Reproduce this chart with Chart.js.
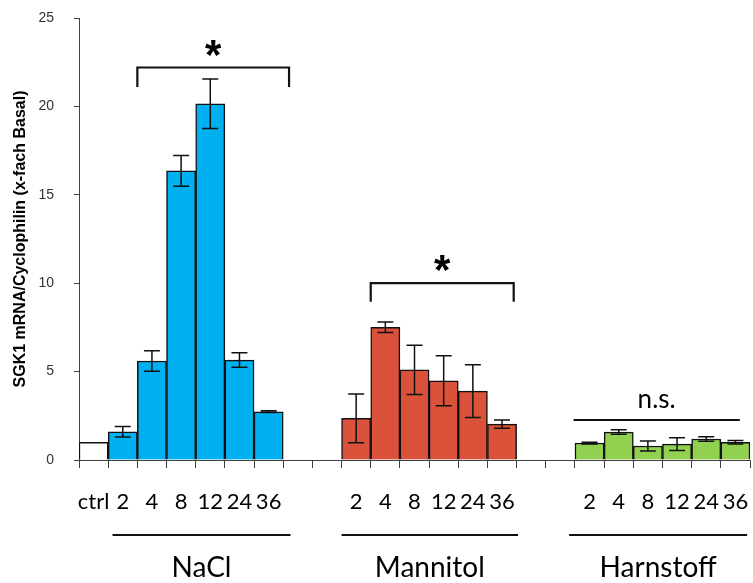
<!DOCTYPE html>
<html>
<head>
<meta charset="utf-8">
<script src="https://cdn.jsdelivr.net/npm/chart.js@4"></script>
<style>
    html, body { margin: 0; padding: 0; background: #ffffff; }
    canvas { display: block; }
</style>
</head>
<body>
<canvas id="sgkChart" width="753" height="583"></canvas>
<script>
// ========================================
// SGK1 EXPRESSION - BAR CHART
// ========================================

// Zeitpunkte (h) pro Behandlung
const timepoints = ['2', '4', '8', '12', '24', '36'];
const groupNames = ['NaCl', 'Mannitol', 'Harnstoff'];

// Mittelwerte und Fehler (x-fach Basal)
const ctrlValue = [1.0];
const naclValues = [1.6, 5.6, 16.35, 20.15, 5.65, 2.73];
const naclErrors = [0.3, 0.58, 0.87, 1.4, 0.41, 0.05];
const mannitolValues = [2.35, 7.51, 5.1, 4.48, 3.9, 2.03];
const mannitolErrors = [1.38, 0.3, 1.39, 1.41, 1.49, 0.23];
const harnstoffValues = [0.96, 1.58, 0.79, 0.9, 1.19, 1.0];
const harnstoffErrors = [0.05, 0.13, 0.28, 0.36, 0.13, 0.1];

const yTicks = [0, 5, 10, 15, 20, 25];

const colors = {
    ctrl: '#ffffff',
    nacl: '#00b0f0',
    mannitol: '#d95239',
    harnstoff: '#92d050'
};

// Kategorien: ctrl, NaCl, Lücke, Mannitol, Lücke, Harnstoff
const gap = ['', ''];
const labels = ['ctrl', ...timepoints, ...gap, ...timepoints, ...gap, ...timepoints];
const values = [...ctrlValue, ...naclValues, null, null, ...mannitolValues, null, null, ...harnstoffValues];
const errors = [null, ...naclErrors, null, null, ...mannitolErrors, null, null, ...harnstoffErrors];
const barColors = [
    colors.ctrl,
    ...naclValues.map(() => colors.nacl),
    null, null,
    ...mannitolValues.map(() => colors.mannitol),
    null, null,
    ...harnstoffValues.map(() => colors.harnstoff)
];

const LABEL_FONT = 'Lato, "Open Sans", sans-serif';
const AXIS_FONT = '"Liberation Sans", Arial, sans-serif';

// Fehlerbalken
const errorBarPlugin = {
    id: 'errorBars',
    afterDatasetsDraw(chart) {
        const { ctx, scales: { x, y } } = chart;
        ctx.save();
        ctx.strokeStyle = '#111111';
        ctx.lineWidth = 1.5;
        errors.forEach((err, i) => {
            if (err === null || values[i] === null) return;
            const cx = x.getPixelForValue(i);
            const top = y.getPixelForValue(values[i] + err);
            const bot = y.getPixelForValue(values[i] - err);
            const half = 8;
            ctx.beginPath();
            ctx.moveTo(cx, top); ctx.lineTo(cx, bot);
            ctx.moveTo(cx - half, top); ctx.lineTo(cx + half, top);
            ctx.moveTo(cx - half, bot); ctx.lineTo(cx + half, bot);
            ctx.stroke();
        });
        ctx.restore();
    }
};

// Signifikanz-Klammern, n.s.-Linie und Gruppenbeschriftung
const annotationPlugin = {
    id: 'groupAnnotations',
    afterDraw(chart, args, opts) {
        const { ctx, chartArea, scales: { x, y } } = chart;
        const xAt = v => {
            const i = Math.floor(v);
            const a = x.getPixelForValue(i);
            const b = x.getPixelForValue(i + 1);
            return a + (b - a) * (v - i);
        };
        ctx.save();
        ctx.strokeStyle = '#111111';
        ctx.fillStyle = '#000000';

        // Klammern mit Stern
        ctx.lineWidth = 2.2;
        opts.brackets.forEach(b => {
            const x1 = xAt(b.from), x2 = xAt(b.to);
            const yl = y.getPixelForValue(b.level);
            const yd = y.getPixelForValue(b.drop);
            ctx.beginPath();
            ctx.moveTo(x1, yd); ctx.lineTo(x1, yl); ctx.lineTo(x2, yl); ctx.lineTo(x2, yd);
            ctx.stroke();
            ctx.font = 'bold 42px ' + AXIS_FONT;
            ctx.textAlign = 'center';
            ctx.textBaseline = 'alphabetic';
            ctx.fillText('*', (x1 + x2) / 2, yl + 1);
        });

        // n.s.
        const ns = opts.ns;
        const n1 = xAt(ns.from), n2 = xAt(ns.to);
        const ny = y.getPixelForValue(ns.level);
        ctx.lineWidth = 2;
        ctx.beginPath();
        ctx.moveTo(n1, ny); ctx.lineTo(n2, ny);
        ctx.stroke();
        ctx.font = '26px ' + LABEL_FONT;
        ctx.textAlign = 'center';
        ctx.textBaseline = 'alphabetic';
        ctx.fillText('n.s.', (n1 + n2) / 2, ny - 12);

        // Gruppenlinien und Namen unter der Achse
        const lineY = chartArea.bottom + 75;
        const nameY = chartArea.bottom + 108;
        opts.groups.forEach((g, k) => {
            const g1 = xAt(g.from), g2 = xAt(g.to);
            ctx.lineWidth = 2;
            ctx.beginPath();
            ctx.moveTo(g1, lineY); ctx.lineTo(g2, lineY);
            ctx.stroke();
            ctx.font = '28px ' + LABEL_FONT;
            ctx.textAlign = 'center';
            ctx.textBaseline = 'middle';
            ctx.fillText(groupNames[k], (g1 + g2) / 2, nameY);
        });
        ctx.restore();
    }
};

const ctx = document.getElementById('sgkChart').getContext('2d');

new Chart(ctx, {
    type: 'bar',
    data: {
        labels: labels,
        datasets: [{
            data: values,
            backgroundColor: barColors,
            borderColor: '#111111',
            borderWidth: 1.5,
            barPercentage: 1.0,
            categoryPercentage: 1.0
        }]
    },
    options: {
        responsive: false,
        animation: false,
        layout: {
            padding: { top: 18, right: 3, left: 0, bottom: 0 }
        },
        plugins: {
            legend: { display: false },
            tooltip: { enabled: false },
            groupAnnotations: {
                brackets: [
                    { from: 1.5, to: 6.7, level: 22.2, drop: 21.1 },
                    { from: 9.5, to: 14.4, level: 10.0, drop: 8.95 }
                ],
                ns: { from: 16.45, to: 22.15, level: 2.26 },
                groups: [
                    { from: 0.65, to: 6.75 },
                    { from: 8.5, to: 14.55 },
                    { from: 16.3, to: 22.4 }
                ]
            }
        },
        scales: {
            x: {
                grid: {
                    offset: true,
                    drawOnChartArea: false,
                    tickLength: 8,
                    color: '#404040'
                },
                border: { color: '#404040', width: 1 },
                ticks: {
                    color: '#000000',
                    font: { family: LABEL_FONT, size: 22 },
                    padding: 21,
                    maxRotation: 0,
                    autoSkip: false
                },
                afterFit(scale) {
                    scale.height = 123;
                    scale.paddingLeft = 0;
                    scale.paddingRight = 0;
                }
            },
            y: {
                min: 0,
                max: 25,
                afterBuildTicks(scale) {
                    scale.ticks = yTicks.map(v => ({ value: v }));
                },
                grid: {
                    drawOnChartArea: false,
                    tickLength: 5,
                    color: '#404040'
                },
                border: { color: '#404040', width: 1 },
                ticks: {
                    color: '#333333',
                    font: { family: AXIS_FONT, size: 14 },
                    padding: 20
                },
                title: {
                    display: true,
                    text: 'SGK1 mRNA/Cyclophilin (x-fach Basal)',
                    color: '#000000',
                    font: { family: AXIS_FONT, size: 16, weight: 'bold' },
                    padding: { top: 11, bottom: 0 }
                },
                afterFit(scale) {
                    scale.width = 79;
                    scale.paddingTop = 0;
                    scale.paddingBottom = 0;
                }
            }
        }
    },
    plugins: [errorBarPlugin, annotationPlugin]
});
</script>
</body>
</html>
